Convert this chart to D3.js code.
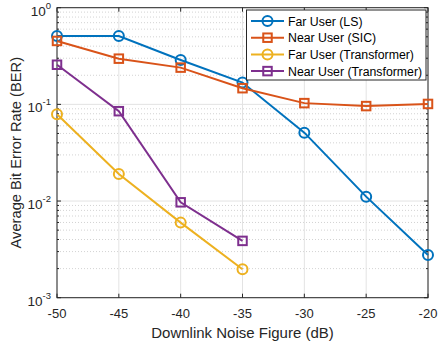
<!DOCTYPE html>
<html><head><meta charset="utf-8">
<script src="https://cdn.jsdelivr.net/npm/d3@7"></script>
<style>body{margin:0;background:#fff;} text{font-family:"Liberation Sans",Arial,sans-serif;}</style>
</head><body>
<svg id="c" width="438" height="347"></svg>
<script>
const xValues = [-50, -45, -40, -35, -30, -25, -20];
const farLS = [0.51, 0.51, 0.288, 0.168, 0.051, 0.0111, 0.00277];
const nearSIC = [0.453, 0.297, 0.24, 0.147, 0.103, 0.096, 0.101];
const farTr = [0.079, 0.019, 0.00598, 0.00197];
const nearTr = [0.257, 0.085, 0.0097, 0.00387];
const xTicks = [-50, -45, -40, -35, -30, -25, -20];
const yExps = [0, -1, -2, -3];
const seriesNames = ["Far User (LS)", "Near User (SIC)", "Far User (Transformer)", "Near User (Transformer)"];
const colors = ["#0072BD", "#D95319", "#EDB120", "#7E2F8E"];
const markers = ["circle", "square", "circle", "square"];

const series = [farLS, nearSIC, farTr, nearTr].map((v, i) => ({
  name: seriesNames[i], color: colors[i], marker: markers[i],
  pts: v.map((y, j) => ({x: xValues[j], y}))
}));

const L = 57, R = 428, T = 7.7, B = 297.7;
const svg = d3.select("#c");
const x = d3.scaleLinear().domain([-50, -20]).range([L, R]);
const y = d3.scaleLog().domain([1e-3, 1]).range([B, T]);

// grid
const g = svg.append("g");
const minorVals = [];
for (let e = -3; e < 0; e++) for (let m = 2; m <= 9; m++) minorVals.push(m * Math.pow(10, e));
g.selectAll(".mg").data(minorVals).enter().append("line")
  .attr("x1", L).attr("x2", R).attr("y1", d => y(d)).attr("y2", d => y(d))
  .attr("stroke", "#c8c8c8").attr("stroke-width", 0.8).attr("stroke-dasharray", "1,2");
g.selectAll(".Mg").data(yExps.map(e => Math.pow(10, e))).enter().append("line")
  .attr("x1", L).attr("x2", R).attr("y1", d => y(d)).attr("y2", d => y(d))
  .attr("stroke", "#e3e3e3").attr("stroke-width", 1);
g.selectAll(".xg").data(xTicks).enter().append("line")
  .attr("x1", d => x(d)).attr("x2", d => x(d)).attr("y1", T).attr("y2", B)
  .attr("stroke", "#e3e3e3").attr("stroke-width", 1);

// axes (ticks inside)
const ax = svg.append("g").attr("stroke", "#262626").attr("fill", "none");
ax.append("rect").attr("x", L).attr("y", T).attr("width", R - L).attr("height", B - T).attr("stroke-width", 1);
xTicks.forEach(t => {
  ax.append("line").attr("x1", x(t)).attr("x2", x(t)).attr("y1", B).attr("y2", B - 4);
  ax.append("line").attr("x1", x(t)).attr("x2", x(t)).attr("y1", T).attr("y2", T + 4);
});
yExps.forEach(e => {
  const yy = y(Math.pow(10, e));
  ax.append("line").attr("x1", L).attr("x2", L + 4).attr("y1", yy).attr("y2", yy);
  ax.append("line").attr("x1", R).attr("x2", R - 4).attr("y1", yy).attr("y2", yy);
});
minorVals.forEach(v => {
  const yy = y(v);
  ax.append("line").attr("x1", L).attr("x2", L + 2).attr("y1", yy).attr("y2", yy);
  ax.append("line").attr("x1", R).attr("x2", R - 2).attr("y1", yy).attr("y2", yy);
});

// tick labels
svg.selectAll(".xl").data(xTicks).enter().append("text")
  .attr("x", d => x(d)).attr("y", 318).attr("text-anchor", "middle")
  .attr("font-size", 13).attr("fill", "#262626").text(d => d);
yExps.forEach(e => {
  const t = svg.append("text").attr("x", L - 6).attr("y", y(Math.pow(10, e)) + 8)
    .attr("text-anchor", "end").attr("font-size", 13.5).attr("fill", "#262626");
  t.append("tspan").text("10");
  t.append("tspan").attr("dy", -7).attr("font-size", 9.5).text(e);
});

svg.append("text").attr("x", (L + R) / 2).attr("y", 337.5).attr("text-anchor", "middle")
  .attr("font-size", 15).attr("fill", "#262626").text("Downlink Noise Figure (dB)");
svg.append("text").attr("transform", `translate(20.5,${(T + B) / 2}) rotate(-90)`)
  .attr("text-anchor", "middle").attr("font-size", 14.7).attr("fill", "#262626")
  .text("Average Bit Error Rate (BER)");

// lines
const line = d3.line().x(d => x(d.x)).y(d => y(d.y));
function drawMarker(sel, m, color, cx, cy) {
  if (m === "circle") sel.append("circle").attr("cx", cx).attr("cy", cy).attr("r", 5)
    .attr("fill", "none").attr("stroke", color).attr("stroke-width", 2);
  else sel.append("rect").attr("x", cx - 4.25).attr("y", cy - 4.25).attr("width", 8.5).attr("height", 8.5)
    .attr("fill", "none").attr("stroke", color).attr("stroke-width", 2);
}
series.forEach(s => {
  const sg = svg.append("g");
  sg.append("path").datum(s.pts).attr("d", line).attr("fill", "none")
    .attr("stroke", s.color).attr("stroke-width", 2);
  s.pts.forEach(p => drawMarker(sg, s.marker, s.color, x(p.x), y(p.y)));
});

// legend
const lg = svg.append("g");
lg.append("rect").attr("x", 246.5).attr("y", 10).attr("width", 179.5).attr("height", 70)
  .attr("fill", "#fff").attr("stroke", "#262626").attr("stroke-width", 1);
series.forEach((s, i) => {
  const yy = 21 + i * 16.7;
  lg.append("line").attr("x1", 251).attr("x2", 284).attr("y1", yy).attr("y2", yy)
    .attr("stroke", s.color).attr("stroke-width", 2);
  drawMarker(lg, s.marker, s.color, 267.5, yy);
  lg.append("text").attr("x", 288).attr("y", yy + 4.5).attr("font-size", 12.3)
    .attr("fill", "#000").text(s.name);
});
</script>
</body></html>
